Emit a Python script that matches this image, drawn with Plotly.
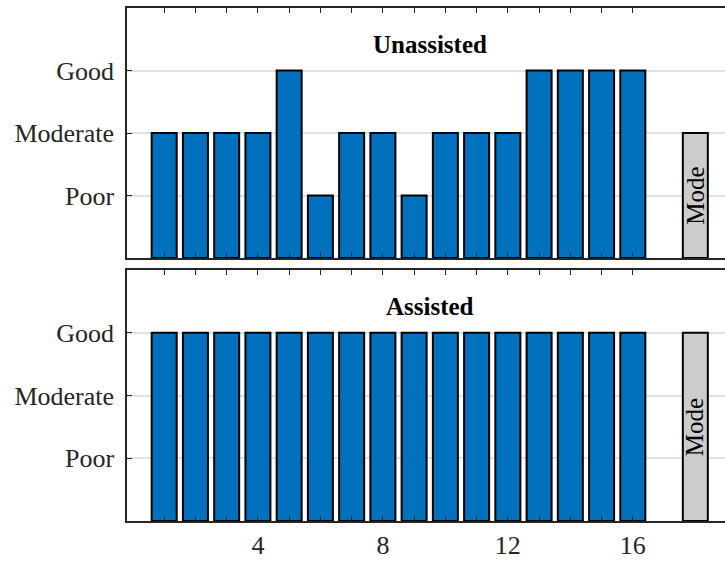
import plotly.graph_objects as go

# Ratings per session: 1 = Poor, 2 = Moderate, 3 = Good
sessions = list(range(1, 17))
unassisted = [2, 2, 2, 2, 3, 1, 2, 2, 1, 2, 2, 2, 3, 3, 3, 3]
assisted = [3, 3, 3, 3, 3, 3, 3, 3, 3, 3, 3, 3, 3, 3, 3, 3]
mode_x = 18
mode_unassisted = 2
mode_assisted = 3

rating_vals = [1, 2, 3]
rating_labels = ["Poor", "Moderate", "Good"]
x_labelled = [4, 8, 12, 16]

BLUE = "#0072BD"
GREY = "#CCCCCC"
AXIS = "#262626"
FONT = "Liberation Serif, Times New Roman, serif"
FS = 26

W, H = 725, 563
fig = go.Figure()

panels = [
    ("Unassisted", unassisted, mode_unassisted, "x", "y"),
    ("Assisted", assisted, mode_assisted, "x2", "y2"),
]

for title, vals, mode_val, xa, ya in panels:
    fig.add_trace(go.Bar(
        x=sessions, y=vals, width=0.8, xaxis=xa, yaxis=ya,
        marker=dict(color=BLUE, line=dict(color="black", width=2)),
        showlegend=False, hoverinfo="skip",
    ))
    fig.add_trace(go.Bar(
        x=[mode_x], y=[mode_val], width=0.8, xaxis=xa, yaxis=ya,
        marker=dict(color=GREY, line=dict(color="black", width=2)),
        showlegend=False, hoverinfo="skip",
    ))
    fig.add_annotation(
        x=9.5, y=3.42, xref=xa, yref=ya, text="<b>%s</b>" % title,
        showarrow=False, font=dict(family=FONT, size=FS - 1, color="black"),
    )
    fig.add_annotation(
        x=mode_x, y=mode_val / 2, xref=xa, yref=ya, text="Mode",
        textangle=-90, showarrow=False,
        font=dict(family=FONT, size=FS - 1, color="black"),
    )

x_range = [-0.19, 18.95]
tick_text = [str(v) if v in x_labelled else "" for v in sessions]

common_x = dict(
    range=x_range, showgrid=False, zeroline=False, showline=True,
    linecolor=AXIS, linewidth=1.5, mirror="ticks", ticks="inside",
    ticklen=5, tickwidth=1, tickcolor=AXIS, tickvals=sessions,
    ticktext=tick_text, tickfont=dict(family=FONT, size=FS, color=AXIS),
)
common_y = dict(
    range=[0, 4], showgrid=True, gridcolor="#E1E1E1", gridwidth=1.5,
    zeroline=False, showline=True, linecolor=AXIS, linewidth=1.5,
    ticks="inside", ticklen=5, tickwidth=1, tickcolor=AXIS,
    tickvals=rating_vals, ticktext=rating_labels, ticklabelstandoff=6,
    tickfont=dict(family=FONT, size=FS, color=AXIS),
)

top_dom = [1 - 258 / H, 1 - 8 / H]
bot_dom = [1 - 521 / H, 1 - 270 / H]

fig.update_layout(
    width=W, height=H,
    margin=dict(l=127, r=0, t=0, b=0),
    paper_bgcolor="white", plot_bgcolor="white",
    barmode="overlay",
    xaxis=dict(common_x, domain=[0, 1], anchor="y", showticklabels=False),
    yaxis=dict(common_y, domain=top_dom, anchor="x"),
    xaxis2=dict(common_x, domain=[0, 1], anchor="y2"),
    yaxis2=dict(common_y, domain=bot_dom, anchor="x2"),
)

fig.write_html("out.html")
